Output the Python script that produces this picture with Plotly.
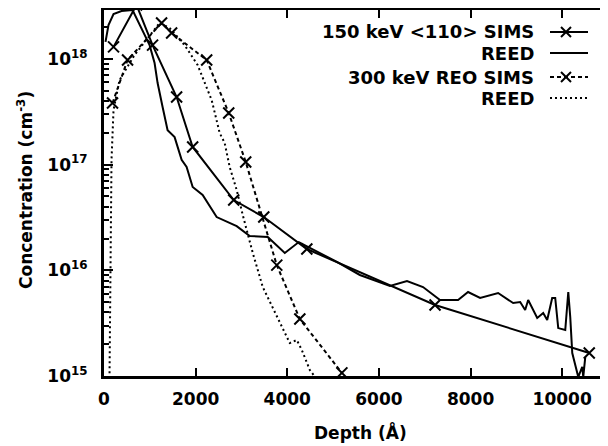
import plotly.graph_objects as go

# ---------------- data ----------------
sims150_depth = [208, 710, 1060, 1585, 1935, 2831, 3487, 4427, 7225, 10591]
sims150_conc = [1.30e18, 3.24e18, 1.35e18, 4.36e17, 1.47e17, 4.62e16, 3.19e16, 1.59e16, 4.70e15, 1.65e15]

reed150_depth = [33, 98, 208, 383, 623, 995, 1104, 1170, 1279, 1388, 1541, 1694, 1803, 1935, 2153,
                 2459, 2896, 3181, 3574, 3946, 4252, 4492, 5083, 5585, 6241, 6613, 6963, 7334, 7728, 7946,
                 8209, 8602, 8930, 9083, 9192, 9258, 9455, 9586, 9673, 9782, 9848, 9914, 10067, 10133, 10176,
                 10220, 10286, 10351, 10438, 10460, 10504]
reed150_conc = [1.45e18, 2.09e18, 2.66e18, 2.84e18, 2.90e18, 1.35e18, 9.15e17, 5.91e17, 3.51e17, 2.12e17,
                1.82e17, 1.11e17, 9.49e16, 6.14e16, 5.16e16, 3.19e16, 2.62e16, 2.11e16, 2.07e16, 1.46e16,
                1.85e16, 1.63e16, 1.20e16, 9.03e15, 7.10e15, 7.92e15, 6.95e15, 5.24e15, 5.24e15, 6.23e15,
                5.47e15, 6.10e15, 4.90e15, 5.01e15, 4.21e15, 5.24e15, 3.54e15, 3.95e15, 3.39e15, 5.47e15,
                5.47e15, 2.84e15, 2.72e15, 6.23e15, 3.61e15, 1.65e15, 1.22e15, 0.98e15, 1.22e15, 0.98e15,
                1.51e15]

sims300_depth = [186, 514, 1257, 1476, 2241, 2722, 3093, 3771, 4274, 5192]
sims300_conc = [3.83e17, 9.77e17, 2.19e18, 1.76e18, 9.77e17, 3.08e17, 1.06e17, 1.12e16, 3.46e15, 1.07e15]

reed300_depth = [120, 142, 164, 208, 339, 667, 995, 1213, 1432, 1760, 2044, 2197, 2350, 2525, 2634,
                 2743, 2896, 3028, 3247, 3465, 3837, 4055, 4208, 4318, 4492, 4623]
reed300_conc = [0.95e15, 1.56e16, 1.11e17, 3.29e17, 6.31e17, 1.09e18, 1.68e18, 2.19e18, 1.96e18, 1.35e18,
                8.75e17, 5.91e17, 4.08e17, 1.99e17, 1.60e17, 9.49e16, 5.75e16, 3.34e16, 1.46e16, 6.95e15,
                3.17e15, 2.05e15, 2.19e15, 1.76e15, 1.14e15, 0.96e15]

legend_labels = ["150 keV <110> SIMS", "REED", "300 keV REO SIMS", "REED"]
x_ticks = [0, 2000, 4000, 6000, 8000, 10000]
x_ticktext = ["0", "2000", "4000", "6000", "8000", "10000"]
y_ticks = [1e15, 1e16, 1e17, 1e18]
y_ticktext = ["10<sup>15</sup>", "10<sup>16</sup>", "10<sup>17</sup>", "10<sup>18</sup>"]
y_minor = [m * 10 ** e for e in range(15, 19) for m in range(2, 10)]

# ---------------- styling ----------------
FONT = dict(family="DejaVu Sans", size=17, color="black", weight="bold")
LFONT = dict(family="DejaVu Sans", size=18, color="black", weight="bold")
SIMS_DASH = "4px,3px"
REED_DOT = "2px,3px"
LW = 2
MK = dict(symbol="x-thin", size=11, color="black", line=dict(width=2, color="black"))

# the page body has an 8px margin: the figure is sized and laid out to compensate
OFF = 8
FIG_W, FIG_H = 608 - OFF, 446 - OFF
# plot area in page pixels
P_L, P_T, P_R, P_B = 104, 10, 608, 376
L, T = P_L - OFF, P_T - OFF
W, H = P_R - P_L, P_B - P_T


def px(x):
    return (x - P_L) / W


def py(y):
    return (P_B - y) / H


fig = go.Figure()
fig.add_trace(go.Scatter(x=sims150_depth, y=sims150_conc, mode="lines+markers", name=legend_labels[0],
                         line=dict(color="black", width=LW), marker=MK))
fig.add_trace(go.Scatter(x=reed150_depth, y=reed150_conc, mode="lines", name=legend_labels[1],
                         line=dict(color="black", width=LW)))
fig.add_trace(go.Scatter(x=sims300_depth, y=sims300_conc, mode="lines+markers", name=legend_labels[2],
                         line=dict(color="black", width=LW, dash=SIMS_DASH), marker=MK))
fig.add_trace(go.Scatter(x=reed300_depth, y=reed300_conc, mode="lines", name=legend_labels[3],
                         line=dict(color="black", width=LW, dash=REED_DOT)))
# empty trace to activate the right-hand tick axis
fig.add_trace(go.Scatter(x=[None], y=[None], yaxis="y2", showlegend=False, hoverinfo="skip"))

annotations = []
shapes = []
rows = [(32, "solid", True), (53, "solid", False), (77, SIMS_DASH, True), (98, REED_DOT, False)]
for (yy, dash, mark), label in zip(rows, legend_labels):
    annotations.append(dict(x=px(536), y=py(yy), xref="paper", yref="paper", text=label,
                            showarrow=False, xanchor="right", yanchor="middle", font=LFONT))
    shapes.append(dict(type="line", xref="paper", yref="paper", x0=px(550), x1=px(588),
                       y0=py(yy), y1=py(yy), line=dict(color="black", width=LW, dash=dash)))
    if mark:
        cx = 566
        for a, b in [(-5, 5), (5, -5)]:
            shapes.append(dict(type="line", xref="paper", yref="paper", x0=px(cx - 5), x1=px(cx + 5),
                               y0=py(yy + a), y1=py(yy + b), line=dict(color="black", width=2)))

annotations.append(dict(x=px(360), y=py(432), xref="paper", yref="paper", text="Depth (Å)",
                        showarrow=False, xanchor="center", yanchor="middle", font=FONT))
annotations.append(dict(x=px(25), y=py(190), xref="paper", yref="paper",
                        text="Concentration (cm<sup>-3</sup>)", textangle=-90,
                        showarrow=False, xanchor="center", yanchor="middle", font=FONT))

fig.update_layout(
    width=FIG_W, height=FIG_H,
    margin=dict(l=L, r=FIG_W - L - W, t=T, b=FIG_H - T - H, pad=0, autoexpand=False),
    paper_bgcolor="white", plot_bgcolor="white",
    showlegend=False,
    font=FONT,
    xaxis=dict(range=[0, 11000], tickvals=x_ticks, ticktext=x_ticktext, ticks="inside", ticklen=8,
               tickwidth=2, tickcolor="black", showline=True, linewidth=3, linecolor="black",
               mirror="ticks", showgrid=False, zeroline=False, tickfont=FONT, ticklabelstandoff=6,
               automargin=False),
    yaxis=dict(type="log", range=[15, 18.463], tickvals=y_ticks, ticktext=y_ticktext,
               ticks="inside", ticklen=9, tickwidth=2, tickcolor="black",
               minor=dict(tickvals=y_minor, ticks="inside", ticklen=5, tickwidth=1.5, tickcolor="black"),
               showline=True, linewidth=3, linecolor="black", mirror=False,
               showgrid=False, zeroline=False, tickfont=FONT, ticklabelstandoff=10, automargin=False),
    yaxis2=dict(type="log", range=[15, 18.463], overlaying="y", side="right", tickvals=y_ticks,
                ticks="inside", ticklen=6, tickwidth=2, tickcolor="black", showticklabels=False,
                showline=False, showgrid=False, zeroline=False, automargin=False),
    annotations=annotations,
    shapes=shapes,
)

fig.write_html("out.html")
